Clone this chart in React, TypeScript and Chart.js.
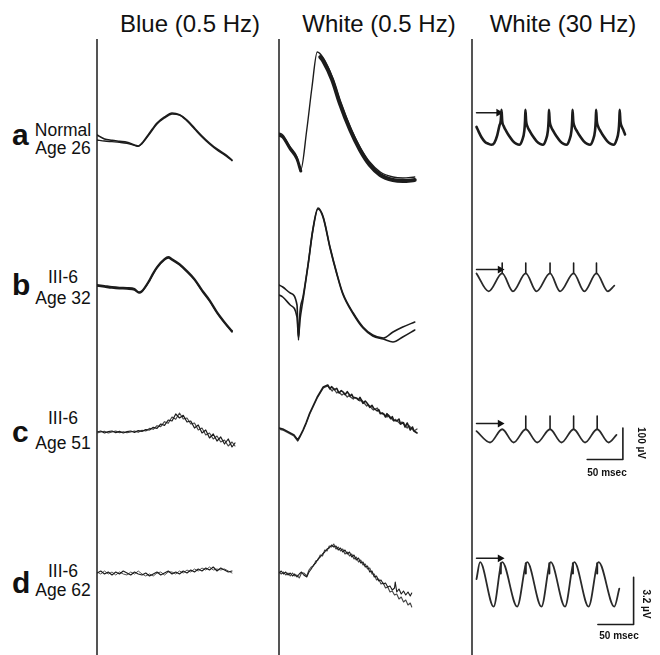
import React, { useEffect, useRef } from "react";
import { Chart, registerables } from "chart.js";

Chart.register(...registerables);

type P = [number, number | null];

// ---------- DATA (time in ms, amplitude in µV) ----------
const columnTitles = ["Blue (0.5 Hz)", "White (0.5 Hz)", "White (30 Hz)"];
const rowLetters = ["a", "b", "c", "d"];
const rowSubjects = [
  ["Normal", "Age 26"],
  ["III-6", "Age 32"],
  ["III-6", "Age 51"],
  ["III-6", "Age 62"],
];
const scaleLabelsC = ["100 µV", "50 msec"];
const scaleLabelsD = ["3.2 µV", "50 msec"];

// Blue 0.5 Hz
const blueA1: P[] = [[0,6],[10,-6],[20,-10],[30,-13],[40,-16],[50,-24],[55,-27],[60,-18],[70,12],[80,42],[90,60],[100,72],[110,67],[120,51],[130,27],[140,3],[150,-18],[160,-36],[170,-51],[180,-69]];
const blueA2: P[] = [[0,-9],[10,-12],[20,-14],[30,-16],[40,-19],[50,-25],[55,-28],[60,-20],[70,9],[80,39],[90,57],[100,69],[110,66],[120,48],[130,24],[140,0],[150,-21],[160,-39],[170,-54],[180,-71]];
const blueB1: P[] = [[0,6],[10,3],[20,0],[30,-2],[40,-3],[50,-6],[56,-16],[60,-12],[70,21],[75,42],[80,60],[90,84],[95,90],[100,84],[110,69],[120,48],[130,24],[140,-9],[150,-39],[160,-75],[170,-105],[180,-132]];
const blueB2: P[] = [[0,3],[10,0],[20,-3],[30,-5],[40,-6],[50,-9],[56,-18],[60,-14],[70,18],[75,39],[80,57],[90,81],[95,87],[100,81],[110,66],[120,45],[130,21],[140,-12],[150,-42],[160,-78],[170,-108],[180,-135]];
const blueC1: P[] = [[0,0],[5,3],[10,-3],[15,1],[20,3],[25,-2],[30,2],[35,-3],[40,1],[45,3],[50,-1],[55,4],[60,2],[65,7],[70,6],[75,14],[80,11],[85,24],[90,20],[95,36],[100,33],[105,54],[110,42],[115,50],[120,30],[125,33],[130,12],[135,21],[140,-3],[145,6],[150,-18],[155,-6],[160,-27],[165,-15],[170,-36],[175,-21],[180,-45],[184,-33]];
const blueC2: P[] = [[0,-3],[5,0],[10,2],[15,-3],[20,0],[25,3],[30,-2],[35,1],[40,-2],[45,0],[50,3],[55,-1],[60,5],[65,3],[70,11],[75,8],[80,19],[85,16],[90,31],[95,26],[100,45],[105,38],[110,57],[115,39],[120,42],[125,24],[130,27],[135,6],[140,12],[145,-9],[150,-3],[155,-21],[160,-12],[165,-30],[170,-24],[175,-42],[180,-30],[184,-42]];
const blueD1: P[] = [[0,0],[5,6],[10,-3],[15,3],[20,-6],[25,3],[30,-3],[35,6],[40,0],[45,-6],[50,3],[55,-3],[60,-6],[65,0],[70,-9],[75,-3],[80,3],[85,-6],[90,0],[95,6],[100,-3],[105,3],[110,-3],[115,6],[120,0],[125,9],[130,3],[135,12],[140,6],[145,15],[150,9],[155,18],[160,6],[165,15],[170,9],[175,3],[180,6]];
const blueD2: P[] = [[0,3],[5,-3],[10,6],[15,-3],[20,3],[25,-6],[30,3],[35,-3],[40,-6],[45,3],[50,-3],[55,6],[60,-3],[65,-9],[70,-3],[75,-9],[80,0],[85,3],[90,-6],[95,3],[100,3],[105,-3],[110,6],[115,0],[120,9],[125,3],[130,12],[135,6],[140,15],[145,9],[150,18],[155,9],[160,12],[165,9],[170,12],[175,6],[180,0]];

// White 0.5 Hz
const whiteA1: P[] = [[0,12],[5,6],[15,-30],[24,-60],[29,-99],[37,21],[44,150],[51,255],[59,237],[71,180],[81,111],[95,30],[108,-30],[121,-75],[135,-105],[152,-120],[165,-123],[181,-120]];
const whiteA2: P[] = [[0,6],[5,0],[15,-36],[24,-66],[29,-102]];
const whiteA3: P[] = [[55,240],[59,228],[71,171],[81,102],[95,21],[108,-39],[121,-84],[135,-114],[152,-129],[165,-132],[181,-129]];
const whiteB1: P[] = [[0,6],[5,0],[15,-18],[24,-54],[26,-159],[28,-75],[32,-30],[39,72],[45,171],[52,237],[59,210],[68,120],[77,42],[85,-18],[99,-78],[112,-120],[125,-144],[139,-153],[152,-135],[165,-120],[181,-105]];
const whiteB2: P[] = [[0,-24],[5,-30],[15,-54],[24,-90],[26,-150],[28,-99],[32,-39],[39,69],[45,168],[52,234],[59,207],[68,117],[77,39],[85,-21],[99,-81],[112,-123],[125,-147],[139,-156],[152,-165],[165,-150],[181,-129]];
const whiteC1: P[] = [[0,12],[5,9],[10,3],[15,-3],[20,-9],[25,-24],[28,-12],[32,6],[36,27],[41,57],[46,81],[51,105],[55,120],[59,135],[62,138],[65,141],[68,129],[70,136],[74,127],[77,131],[80,117],[83,124],[86,119],[88,112],[91,121],[95,108],[97,113],[99,104],[104,101],[106,96],[108,104],[112,86],[115,93],[117,88],[121,74],[124,80],[126,72],[131,63],[133,67],[135,57],[140,53],[142,45],[144,55],[149,40],[151,46],[153,35],[157,33],[160,39],[162,24],[166,28],[168,15],[171,27],[175,6],[178,15],[180,3],[184,-3]];
const whiteC2: P[] = [[0,9],[5,6],[10,0],[15,-6],[20,-12],[25,-27],[28,-15],[32,3],[36,24],[41,54],[46,78],[51,102],[55,117],[59,132],[62,135],[65,138],[67,133],[71,123],[73,130],[77,117],[79,121],[84,111],[87,116],[91,105],[93,109],[99,99],[101,104],[108,93],[110,96],[117,78],[119,83],[124,70],[126,66],[131,72],[135,54],[138,58],[144,45],[146,51],[153,33],[155,38],[162,24],[164,30],[171,12],[173,20],[180,3],[184,9]];
const whiteD1: P[] = [[0,0],[3,6],[6,-3],[9,3],[12,-6],[15,0],[18,-9],[21,-3],[24,-12],[27,-3],[30,3],[33,-6],[37,-12],[40,3],[43,12],[46,24],[49,30],[52,42],[55,48],[58,57],[61,63],[64,72],[67,75],[70,84],[73,78],[76,81],[79,69],[82,75],[85,63],[88,69],[91,57],[94,63],[97,48],[100,54],[103,39],[106,45],[109,30],[112,33],[115,18],[118,21],[121,3],[124,6],[127,-12],[130,-9],[133,-24],[136,-21],[139,-33],[142,-30],[145,-42],[148,-39],[151,-51],[154,-45],[155,-27],[157,-57],[160,-48],[163,-63],[166,-54],[169,-66],[172,-57],[175,-69],[177,-60]];
const whiteD2: P[] = [[0,3],[3,-3],[6,3],[9,-6],[12,0],[15,-9],[18,0],[21,-9],[24,-6],[27,-15],[30,0],[33,0],[37,-9],[40,9],[43,18],[46,21],[49,36],[52,39],[55,54],[58,51],[61,69],[64,66],[67,81],[70,78],[73,87],[76,72],[79,78],[82,66],[85,72],[88,57],[91,63],[94,51],[97,57],[100,42],[103,48],[106,33],[109,39],[112,24],[115,27],[118,12],[121,15],[124,-3],[127,-3],[130,-21],[133,-18],[136,-33],[139,-30],[142,-45],[145,-42],[148,-57],[151,-54],[154,-66],[157,-63],[160,-78],[163,-72],[166,-87],[169,-81],[172,-96],[175,-90],[177,-102]];

// White 30 Hz
const flickerA: P[] = [[0,0],[3,-15],[7,-33],[12,-48],[17,-54],[21,-57],[25,-51],[29,-27],[32,3],[34,21],[35,54],[36,18],[38,3],[42,-15],[46,-30],[51,-45],[56,-54],[60,-57],[64,-42],[67,-12],[68,21],[68.5,54],[69.5,18],[71,3],[75,-15],[79,-30],[84,-45],[89,-54],[93,-57],[97,-42],[100,-12],[101,21],[101.5,54],[102.5,18],[104,3],[108,-15],[112,-30],[117,-45],[122,-54],[126,-57],[130,-42],[133,-12],[134,21],[134.5,54],[135.5,18],[137,3],[141,-15],[145,-30],[150,-45],[155,-54],[159,-57],[163,-42],[166,-12],[167,21],[167.5,54],[168.5,18],[170,3],[174,-15],[178,-30],[183,-45],[188,-54],[192,-57],[196,-42],[199,-12],[200,21],[200.5,54],[201.5,18],[203,3],[206,-12],[208,-24]];
const flickerAArrow: P[] = [[0,45],[31,45]];
const flickerB: P[] = [[0,27],[17,-30],[36,27],[51,-30],[69,27],[84,-30],[103,27],[117,-30],[136,27],[151,-30],[168,27],[184,-30],[193,-12]];
const flickerBTicks: P[] = [[36,27],[36,60],[36,null],[69,27],[69,60],[69,null],[103,27],[103,60],[103,null],[136,27],[136,60],[136,null],[168,27],[168,60]];
const flickerBArrow: P[] = [[0,39],[33,39]];
const flickerC: P[] = [[0,15],[19,-21],[36,21],[52,-21],[69,21],[85,-21],[103,21],[119,-21],[136,21],[152,-21],[169,21],[185,-21],[196,3]];
const flickerCTicks: P[] = [[69,21],[69,63],[69,null],[103,21],[103,63],[103,null],[136,21],[136,63],[136,null],[169,21],[169,63]];
const flickerCArrow: P[] = [[0,39],[33,39]];
const flickerD: P[] = [[0,0.32],[5,1.47],[24,-1.54],[36,1.47],[57,-1.54],[71,1.47],[91,-1.54],[104,1.47],[124,-1.54],[137,1.47],[157,-1.54],[171,1.47],[193,-1.54],[200,-0.32]];
const flickerDTicks: P[] = [[34,1.4],[34,0.7],[34,null],[69,1.4],[69,0.7],[69,null],[102,1.4],[102,0.7],[102,null],[135,1.4],[135,0.7],[135,null],[169,1.4],[169,0.7]];
const flickerDArrow: P[] = [[0,1.73],[33,1.73]];
const scaleBarC: P[] = [[155,-75],[205,-75],[205,25]];
const scaleBarD: P[] = [[170,-2.75],[220,-2.75],[220,0.45]];

// ---------- LAYOUT ----------
const PX_PER_MS = 0.75;
const ABOVE = 100;
const PANEL_H = 160;
const INK = "#1c1c1c";

type Series = { data: P[]; w: number; smooth?: boolean; arrow?: boolean; color?: string };
type PanelDef = { left: number; base: number; width: number; k: number; series: Series[] };

const COLS = [97, 279, 472];
const WIDTHS = [170, 180, 188];

const panels: PanelDef[] = [
  { left: COLS[0], base: 137, width: WIDTHS[0], k: 3, series: [{ data: blueA1, w: 1.6, smooth: true }, { data: blueA2, w: 1.4, smooth: true }] },
  { left: COLS[0], base: 287, width: WIDTHS[0], k: 3, series: [{ data: blueB1, w: 2, smooth: true }, { data: blueB2, w: 1.6, smooth: true }] },
  { left: COLS[0], base: 432, width: WIDTHS[0], k: 3, series: [{ data: blueC1, w: 1.2 }, { data: blueC2, w: 1.1, color: "#444" }] },
  { left: COLS[0], base: 573, width: WIDTHS[0], k: 3, series: [{ data: blueD1, w: 1.1 }, { data: blueD2, w: 1, color: "#555" }] },
  { left: COLS[1], base: 137, width: WIDTHS[1], k: 3, series: [{ data: whiteA1, w: 1.4, smooth: true }, { data: whiteA2, w: 3, smooth: true }, { data: whiteA3, w: 4, smooth: true }] },
  { left: COLS[1], base: 287, width: WIDTHS[1], k: 3, series: [{ data: whiteB1, w: 1.6, smooth: true }, { data: whiteB2, w: 1.6, smooth: true }] },
  { left: COLS[1], base: 432, width: WIDTHS[1], k: 3, series: [{ data: whiteC1, w: 1.6 }, { data: whiteC2, w: 1.3, color: "#444" }] },
  { left: COLS[1], base: 573, width: WIDTHS[1], k: 3, series: [{ data: whiteD1, w: 1.1 }, { data: whiteD2, w: 1.1, color: "#444" }] },
  { left: COLS[2], base: 128, width: WIDTHS[2], k: 3, series: [{ data: flickerA, w: 2.6, smooth: true }, { data: flickerAArrow, w: 1.5, arrow: true }] },
  { left: COLS[2], base: 283, width: WIDTHS[2], k: 3, series: [{ data: flickerB, w: 1.8, smooth: true, color: "#2a2a2a" }, { data: flickerBTicks, w: 1.6 }, { data: flickerBArrow, w: 1.5, arrow: true }] },
  { left: COLS[2], base: 437, width: WIDTHS[2], k: 3, series: [{ data: flickerC, w: 1.8, smooth: true, color: "#2a2a2a" }, { data: flickerCTicks, w: 1.6 }, { data: flickerCArrow, w: 1.5, arrow: true }, { data: scaleBarC, w: 1.6 }] },
  { left: COLS[2], base: 585, width: WIDTHS[2], k: 0.064, series: [{ data: flickerD, w: 1.8, smooth: true, color: "#2a2a2a" }, { data: flickerDTicks, w: 2 }, { data: flickerDArrow, w: 1.5, arrow: true }, { data: scaleBarD, w: 1.6 }] },
];

function TracePanel({ def }: { def: PanelDef }) {
  const ref = useRef<HTMLCanvasElement>(null);
  useEffect(() => {
    const chart = new Chart(ref.current!, {
      type: "scatter",
      data: {
        datasets: def.series.map((s) => ({
          data: s.data.map(([x, y]) => ({ x, y: y === null ? null : y })) as any,
          showLine: true,
          borderColor: s.color ?? INK,
          borderWidth: s.w,
          pointRadius: s.arrow ? s.data.map((_, i) => (i === s.data.length - 1 ? 4.5 : 0)) : 0,
          pointHoverRadius: 0,
          pointStyle: "triangle",
          rotation: 90,
          pointBackgroundColor: "#111",
          pointBorderColor: "#111",
          pointBorderWidth: 0,
          tension: 0,
          cubicInterpolationMode: s.smooth ? "monotone" : "default",
          borderJoinStyle: "round",
          borderCapStyle: "round",
          clip: false,
          spanGaps: false,
        })) as any,
      },
      options: {
        responsive: false,
        animation: false,
        events: [],
        layout: { padding: 0 },
        plugins: { legend: { display: false }, tooltip: { enabled: false } },
        scales: {
          x: { type: "linear", display: false, min: 0, max: def.width / PX_PER_MS },
          y: { type: "linear", display: false, min: -(PANEL_H - ABOVE) * def.k, max: ABOVE * def.k },
        },
      },
    });
    return () => chart.destroy();
  }, []);
  return (
    <canvas
      ref={ref}
      width={def.width}
      height={PANEL_H}
      style={{ position: "absolute", left: def.left, top: def.base - ABOVE, width: def.width, height: PANEL_H }}
    />
  );
}

function Txt({ x, y, size, bold, center, children }: { x: number; y: number; size: number; bold?: boolean; center?: boolean; children: React.ReactNode }) {
  return (
    <div
      style={{
        position: "absolute",
        left: x,
        top: y - 0.847 * size,
        fontSize: size,
        lineHeight: `${size}px`,
        fontWeight: bold ? 700 : 400,
        whiteSpace: "nowrap",
        transform: center ? "translateX(-50%)" : undefined,
        color: "#111",
      }}
    >
      {children}
    </div>
  );
}

function Rot({ cx, cy, size, children }: { cx: number; cy: number; size: number; children: React.ReactNode }) {
  return (
    <div
      style={{
        position: "absolute",
        left: cx,
        top: cy,
        fontSize: size,
        lineHeight: `${size}px`,
        fontWeight: 700,
        whiteSpace: "nowrap",
        transform: "translate(-50%, -50%) rotate(90deg)",
        color: "#111",
      }}
    >
      {children}
    </div>
  );
}

const headerCenters = [190, 379, 563];
const letterBaselines = [145, 295, 442, 593];
const subBaselines = [[137, 155], [284, 305], [425, 450], [578, 597]];

export default function App() {
  return (
    <div
      style={{
        position: "absolute",
        left: 0,
        top: 0,
        width: 660,
        height: 655,
        overflow: "hidden",
        background: "#fff",
        fontFamily: '"Liberation Sans", Arial, Helvetica, sans-serif',
      }}
    >
      {columnTitles.map((t, i) => (
        <Txt key={t} x={headerCenters[i]} y={32} size={24} center>
          {t}
        </Txt>
      ))}
      {COLS.map((x) => (
        <div key={x} style={{ position: "absolute", left: x - 1, top: 39, width: 2, height: 616, background: "#555" }} />
      ))}
      {rowLetters.map((l, i) => (
        <Txt key={l} x={12} y={letterBaselines[i]} size={30} bold>
          {l}
        </Txt>
      ))}
      {rowSubjects.map((lines, i) => (
        <React.Fragment key={i}>
          <Txt x={63} y={subBaselines[i][0]} size={17.5} center>
            {lines[0]}
          </Txt>
          <Txt x={63} y={subBaselines[i][1]} size={17.5} center>
            {lines[1]}
          </Txt>
        </React.Fragment>
      ))}
      {panels.map((p, i) => (
        <TracePanel key={i} def={p} />
      ))}
      <Rot cx={641} cy={443} size={10}>{scaleLabelsC[0]}</Rot>
      <Txt x={607} y={476} size={10} bold center>{scaleLabelsC[1]}</Txt>
      <Rot cx={646} cy={604} size={10}>{scaleLabelsD[0]}</Rot>
      <Txt x={619} y={639} size={10} bold center>{scaleLabelsD[1]}</Txt>
    </div>
  );
}
